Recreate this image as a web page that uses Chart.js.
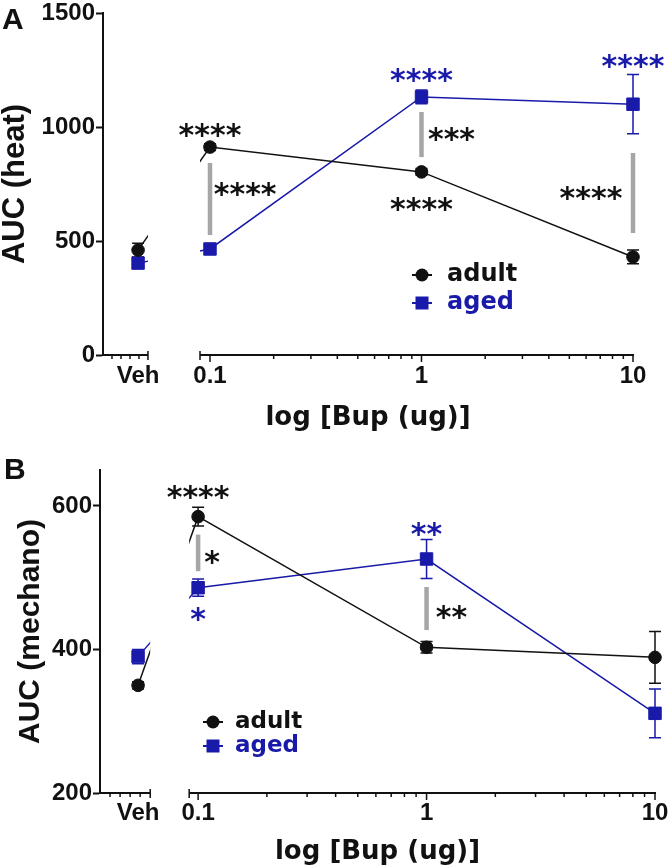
<!DOCTYPE html>
<html>
<head>
<meta charset="utf-8">
<script src="https://cdn.jsdelivr.net/npm/chart.js@4.4.0/dist/chart.umd.min.js"></script>
<style>
body{margin:0;background:#fff;}
canvas{display:block;}
</style>
</head>
<body>
<canvas id="heat" width="670" height="435"></canvas>
<canvas id="mech" width="670" height="433"></canvas>
<script>
// ---- data ----
const xTickLabels = ['Veh', '0.1', '1', '10'];
const doses = [0.1, 1, 10];

const heatAdult = [460, 912, 803, 430];
const heatAdultErr = [30, 15, 15, 30];
const heatAged = [403, 465, 1132, 1100];
const heatAgedErr = [15, 10, 30, 130];
const heatTicks = [0, 500, 1000, 1500];

const mechAdult = [350, 585, 403, 389];
const mechAdultErr = [5, 13, 8, 36];
const mechAged = [390, 486, 526, 311];
const mechAgedErr = [10, 12, 27, 34];
const mechTicks = [200, 400, 600];

// significance marks: [dose, value, text, colour]
const heatStars = [
    [0.1, 996, '****', 'k'], [0.1466, 737, '****', 'k'],
    [1, 1237, '****', 'b'], [1.386, 978, '***', 'k'], [1, 671, '****', 'k'],
    [10, 1298, '****', 'b'], [6.33, 719, '****', 'k']
];
const heatBars = [[0.1, 526, 842], [1, 868, 1066], [10, 535, 886]];
const mechStars = [
    [0.1, 622, '****', 'k'], [0.1152, 532, '*', 'k'], [0.1, 452, '*', 'b'],
    [1, 571, '**', 'b'], [1.286, 455, '**', 'k']
];
const mechBars = [[0.1, 509, 560], [1, 427, 487]];

const BLACK = '#111';
const BLUE = '#1a1aaa';
const colOf = c => c === 'b' ? BLUE : BLACK;

function pts(veh, vals){
    return vals.map((v,i)=>({x: i===0 ? veh : doses[i-1], y: v}));
}

// axis break, error bars, stars, legend
function makeDeco(p){
    return {
        id: 'deco',
        beforeDatasetsDraw(chart){
            const {ctx, scales:{x, y}} = chart;
            ctx.save();
            p.errs.forEach((err, di)=>{
                const ds = chart.data.datasets[di];
                ctx.strokeStyle = ds.borderColor; ctx.lineWidth = 1.5;
                ds.data.forEach((pt,i)=>{
                    const px = x.getPixelForValue(pt.x);
                    const y0 = y.getPixelForValue(pt.y - err[i]);
                    const y1 = y.getPixelForValue(pt.y + err[i]);
                    ctx.beginPath();
                    ctx.moveTo(px, y0); ctx.lineTo(px, y1);
                    ctx.moveTo(px-6, y0); ctx.lineTo(px+6, y0);
                    ctx.moveTo(px-6, y1); ctx.lineTo(px+6, y1);
                    ctx.stroke();
                });
            });
            ctx.restore();
            // hide the Veh -> 0.1 join inside the axis break
            const g0 = x.getPixelForValue(p.vehEnd), g1 = x.getPixelForValue(p.logStart);
            ctx.save();
            ctx.beginPath();
            ctx.rect(0, 0, g0, chart.height);
            ctx.rect(g1, 0, chart.width - g1, chart.height);
            ctx.clip();
        },
        afterDatasetsDraw(chart){
            const {ctx, chartArea:a, scales:{x, y}} = chart;
            ctx.restore();
            ctx.save();
            // grey comparison bars
            ctx.strokeStyle = '#a6a6a6'; ctx.lineWidth = 4.5;
            p.bars.forEach(b=>{
                const px = x.getPixelForValue(b[0]);
                ctx.beginPath();
                ctx.moveTo(px, y.getPixelForValue(b[1]));
                ctx.lineTo(px, y.getPixelForValue(b[2]));
                ctx.stroke();
            });
            // stars
            ctx.font = 'bold 30px "DejaVu Sans"';
            ctx.textAlign = 'center'; ctx.textBaseline = 'alphabetic';
            p.stars.forEach(s=>{
                ctx.fillStyle = colOf(s[3]);
                ctx.fillText(s[2], x.getPixelForValue(s[0]), y.getPixelForValue(s[1]) + 17);
            });
            // broken x axis
            const yb = a.bottom;
            const g0 = x.getPixelForValue(p.vehEnd), g1 = x.getPixelForValue(p.logStart);
            ctx.strokeStyle = BLACK; ctx.lineWidth = 2;
            ctx.beginPath();
            ctx.moveTo(a.left, yb); ctx.lineTo(g0, yb);
            ctx.moveTo(g1, yb); ctx.lineTo(a.right + 1, yb);
            ctx.stroke();
            ctx.lineWidth = 1.5;
            ctx.beginPath();
            for(let k=1;k<5;k++){
                const px = a.left + (g0 - a.left)*k/5;
                ctx.moveTo(px, yb); ctx.lineTo(px, yb+4);
            }
            ctx.moveTo(g0, yb-4); ctx.lineTo(g0, yb+5);
            ctx.moveTo(g1, yb-4); ctx.lineTo(g1, yb+5);
            doses.forEach(d=>{
                const px = x.getPixelForValue(d);
                ctx.moveTo(px, yb); ctx.lineTo(px, yb+7);
            });
            [0.1, 1].forEach(dec=>{
                for(let k=2;k<10;k++){
                    const px = x.getPixelForValue(dec*k);
                    ctx.moveTo(px, yb); ctx.lineTo(px, yb+4);
                }
            });
            ctx.stroke();
            // legend
            const L = p.legend;
            ctx.lineWidth = 2;
            [['adult', BLACK, 'circle'], ['aged', BLUE, 'rect']].forEach((it, i)=>{
                const cy = L.y + i*L.dy;
                ctx.strokeStyle = it[1]; ctx.fillStyle = it[1];
                ctx.beginPath(); ctx.moveTo(L.x-10, cy); ctx.lineTo(L.x+10, cy); ctx.stroke();
                ctx.beginPath();
                if(it[2]==='circle') ctx.arc(L.x, cy, 6.5, 0, Math.PI*2);
                else ctx.rect(L.x-6.5, cy-6.5, 13, 13);
                ctx.fill();
                ctx.font = 'bold ' + L.size + 'px "DejaVu Sans"';
                ctx.textAlign = 'left'; ctx.textBaseline = 'middle';
                ctx.fillText(it[0], L.tx, cy);
            });
            // panel letter
            ctx.fillStyle = BLACK;
            ctx.font = 'bold 30px "Liberation Sans"';
            ctx.textAlign = 'left'; ctx.textBaseline = 'alphabetic';
            ctx.fillText(p.letter, p.letterX, p.letterY);
            ctx.restore();
        }
    };
}

function makeChart(id, p){
    const ds = (label, vals, color, style, r)=>({
        label, data: pts(p.veh, vals), borderColor: color, backgroundColor: color,
        borderWidth: 1.5, pointStyle: style, pointRadius: r, pointBorderWidth: 1,
        pointBackgroundColor: color, tension: 0, clip: false
    });
    return new Chart(document.getElementById(id), {
        type: 'line',
        data: { datasets: [
            ds('adult', p.adult, BLACK, 'circle', 6.3),
            ds('aged', p.aged, BLUE, 'rect', 8.8)
        ]},
        options: {
            responsive: false, animation: false, devicePixelRatio: 1,
            layout: { padding: { left: 0, right: p.padRight, top: p.padTop, bottom: 0 } },
            plugins: { legend: { display: false }, tooltip: { enabled: false } },
            scales: {
                x: {
                    type: 'logarithmic', min: p.xMin, max: 10,
                    border: { display: false },
                    grid: { display: false, drawTicks: false },
                    ticks: { color: BLACK, padding: p.xTickPad, autoSkip: false, maxRotation: 0,
                        font: { family: 'Liberation Sans', weight: 'bold', size: 24 },
                        callback: (v, i) => xTickLabels[i] },
                    afterBuildTicks: s => { s.ticks = [p.veh].concat(doses).map(value => ({value})); },
                    afterFit: s => { s.height = p.xHeight; s.paddingLeft = 0; s.paddingRight = 0; },
                    title: { display: true, text: 'log [Bup (ug)]', color: BLACK,
                        font: { family: 'DejaVu Sans', weight: 'bold', size: 26, lineHeight: 1.2 },
                        padding: { top: 0, bottom: p.xTitlePad } }
                },
                y: {
                    min: p.yMin, max: p.yMax,
                    border: { display: true, color: BLACK, width: 2 },
                    grid: { drawOnChartArea: false, drawTicks: true, tickLength: 7, tickColor: BLACK, tickWidth: 2 },
                    ticks: { color: BLACK, padding: 1,
                        font: { family: 'Liberation Sans', weight: 'bold', size: 24 },
                        callback: v => String(v) },
                    afterBuildTicks: s => { s.ticks = p.yTicks.map(value => ({value})); },
                    afterFit: s => { s.width = p.yWidth; s.paddingTop = 0; s.paddingBottom = 0; },
                    title: { display: true, text: p.yTitle, color: BLACK,
                        font: { family: 'Liberation Sans', weight: 'bold', size: p.yTitleSize, lineHeight: 1 },
                        padding: { top: p.yTitlePad, bottom: 0 } }
                }
            }
        },
        plugins: [makeDeco(p)]
    });
}

makeChart('heat', {
    adult: heatAdult, aged: heatAged, errs: [heatAdultErr, heatAgedErr],
    stars: heatStars, bars: heatBars, yTicks: heatTicks, yMin: 0, yMax: 1500,
    veh: 0.0457, vehEnd: 0.0509, logStart: 0.0897, xMin: 0.0312,
    yWidth: 103, padRight: 37, padTop: 13, xHeight: 80, xTickPad: 7, xTitlePad: 1,
    yTitle: 'AUC (heat)', yTitleSize: 31, yTitlePad: 0,
    legend: { x: 422, y: 275, dy: 28, tx: 447, size: 24 },
    letter: 'A', letterX: 2, letterY: 29
});

makeChart('mech', {
    adult: mechAdult, aged: mechAged, errs: [mechAdultErr, mechAgedErr],
    stars: mechStars, bars: mechBars, yTicks: mechTicks, yMin: 200, yMax: 650,
    veh: 0.0546, vehEnd: 0.0617, logStart: 0.0914, xMin: 0.0372,
    yWidth: 100, padRight: 15, padTop: 35, xHeight: 75, xTickPad: 6, xTitlePad: 0,
    yTitle: 'AUC (mechano)', yTitleSize: 30, yTitlePad: 16,
    legend: { x: 213, y: 287, dy: 24, tx: 235, size: 23 },
    letter: 'B', letterX: 4, letterY: 44
});
</script>
</body>
</html>
